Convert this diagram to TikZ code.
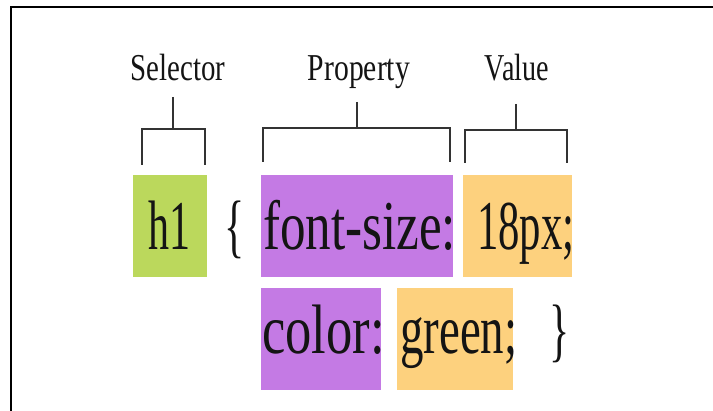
\documentclass[tikz,border=0pt]{standalone}
\usepackage{fontspec}
\setmainfont{Liberation Serif}
\usepackage{graphicx}
\definecolor{selgreen}{HTML}{BBD85C}
\definecolor{proppurple}{HTML}{C47AE4}
\definecolor{valorange}{HTML}{FDD17E}
\definecolor{inkc}{HTML}{141414}
\newcommand{\hsq}[2]{\scalebox{#1}[1]{#2}}
\tikzset{
  box/.style={draw=none, inner sep=0pt, outer sep=0pt, anchor=north west},
  code/.style={inner sep=0pt, anchor=base west, text=inkc, font=\fontsize{70}{70}\selectfont},
  codec/.style={code, anchor=base},
  lbl/.style={inner sep=0pt, anchor=base, text=inkc, font=\fontsize{38}{38}\selectfont},
  bracket/.style={draw=black!80, line width=1.6pt},
  frameline/.style={draw=black, line width=2.5pt}
}
\begin{document}
\begin{tikzpicture}[x=1pt,y=-1pt]
  \useasboundingbox (0,0) rectangle (713,411);
  % frame
  \coordinate (fbl) at (11,412);
  \coordinate (ftl) at (11,7);
  \coordinate (ftr) at (714,7);
  \draw[frameline] (fbl) -- (ftl) -- (ftr);

  % boxes
  \node[box, fill=selgreen, minimum width=74pt, minimum height=102pt] (selbox) at (133,175) {};
  \node[box, fill=proppurple, minimum width=192pt, minimum height=102pt] (propbox1) at (261,175) {};
  \node[box, fill=valorange, minimum width=109pt, minimum height=102pt] (valbox1) at (463,175) {};
  \node[box, fill=proppurple, minimum width=120pt, minimum height=102pt] (propbox2) at (261,288) {};
  \node[box, fill=valorange, minimum width=116pt, minimum height=102pt] (valbox2) at (397,288) {};

  % code text
  \node[code] (h1) at (148,250) {\hsq{0.60}{h1}};
  \node[codec] (lbrace) at (234.5,250) {\hsq{0.6}{\{}};
  \node[code] (fontsize) at (263,250) {\hsq{0.73}{font-size:}};
  \node[code] (px) at (477,250) {\hsq{0.61}{18px;}};
  \node[code] (colorw) at (262,354) {\hsq{0.75}{color:}};
  \node[code] (greenw) at (400,354) {\hsq{0.67}{green;}};
  \node[codec] (rbrace) at (560,354) {\hsq{0.6}{\}}};

  % labels
  \node[lbl] (sel) at (178,81) {\hsq{0.76}{Selector}};
  \node[lbl] (prop) at (359,81) {\hsq{0.78}{Property}};
  \node[lbl] (val) at (517,81) {\hsq{0.74}{Value}};

  % brackets
  \coordinate (selstem) at (173,97);
  \coordinate (seljoin) at (173,129);
  \coordinate (selL) at (142,165);
  \coordinate (selR) at (205,165);
  \draw[bracket] (selstem) -- (seljoin);
  \draw[bracket] (selL) |- (seljoin) -| (selR);

  \coordinate (propstem) at (357,102);
  \coordinate (propjoin) at (357,128);
  \coordinate (propL) at (263,162);
  \coordinate (propR) at (450,162);
  \draw[bracket] (propstem) -- (propjoin);
  \draw[bracket] (propL) |- (propjoin) -| (propR);

  \coordinate (valstem) at (516,104);
  \coordinate (valjoin) at (516,130);
  \coordinate (valL) at (465,163);
  \coordinate (valR) at (567,163);
  \draw[bracket] (valstem) -- (valjoin);
  \draw[bracket] (valL) |- (valjoin) -| (valR);
\end{tikzpicture}
\end{document}
